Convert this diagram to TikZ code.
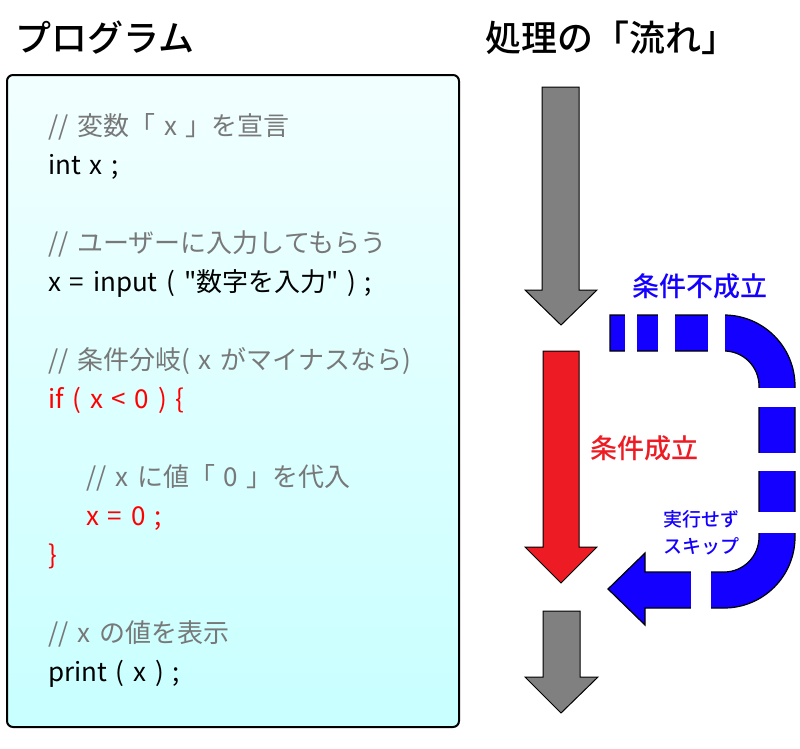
\documentclass[tikz,border=0pt]{standalone}
\usepackage{fontspec}
\setmainfont{Noto Sans CJK JP}[Ligatures=TeXOff]
\newfontfamily\codefont{Noto Sans CJK JP}[Ligatures=TeXOff, WordSpace=1.5]
\newfontfamily\titlefont{Noto Sans CJK JP Medium}
\usepackage{xcolor}
\usepackage{tikz}
\usetikzlibrary{positioning,calc}

\definecolor{boxtop}{RGB}{242,255,255}
\definecolor{boxbottom}{RGB}{200,255,255}
\definecolor{codegray}{RGB}{120,120,120}
\definecolor{codered}{RGB}{255,0,0}
\definecolor{flowgray}{RGB}{128,128,128}
\definecolor{flowred}{RGB}{237,28,36}
\definecolor{skipblue}{RGB}{20,0,255}

\begin{document}
\begin{tikzpicture}[x=1pt, y=1pt,
    title/.style={inner sep=0pt, font=\titlefont\fontsize{36}{40}\selectfont},
    codebox/.style={draw=black, line width=2pt, rounded corners=6pt, top color=boxtop, bottom color=boxbottom},
    codeline/.style={anchor=base west, inner sep=0pt, font=\codefont\fontsize{26}{31}\selectfont},
    comment/.style={codeline, text=codegray},
    redline/.style={codeline, text=codered},
    grayarrow/.style={draw=black, line width=1pt, fill=flowgray},
    redarrow/.style={draw=black, line width=1pt, fill=flowred},
    skipband/.style={draw=black, line width=1.2pt, fill=skipblue},
    gapcut/.style={fill=white},
    label/.style={inner sep=0pt, font=\titlefont\fontsize{27}{31}\selectfont},
    smalllabel/.style={inner sep=0pt, align=center, font=\titlefont\fontsize{19}{27}\selectfont}]

    \useasboundingbox (0,0) rectangle (800,-748);

    % titles
    \node[title] (prog) at (105,-38) {プログラム};
    \node[title] (flow) at (611,-38) {処理の「流れ」};

    % program listing
    \draw[codebox] (7,-75) rectangle (459,-727);
    \node[comment] (c1) at (48,-135) {// 変数「 x 」を宣言};
    \node[codeline] (l1) at (48,-174) {int x ;};
    \node[comment] (c2) at (48,-252) {// ユーザーに入力してもらう};
    \node[codeline] (l2) at (48,-291) {x = input ( "数字を入力" ) ;};
    \node[comment] (c3) at (48,-369) {// 条件分岐( x がマイナスなら)};
    \node[redline] (l3) at (48,-408) {if ( x < 0 ) \{};
    \node[comment] (c4) at (86,-486) {// x に値「 0 」を代入};
    \node[redline] (l4) at (86,-525) {x = 0 ;};
    \node[redline] (l5) at (48,-564) {\}};
    \node[comment] (c5) at (48,-642) {// x の値を表示};
    \node[codeline] (l6) at (48,-681) {print ( x ) ;};

    % flow arrows
    \draw[grayarrow] (542,-87) -- (579,-87) -- (579,-290) -- (597,-290) -- (561,-325)
        -- (525,-290) -- (542,-290) -- cycle;
    \draw[redarrow] (543,-351) -- (579,-351) -- (579,-547) -- (597,-547) -- (561,-583)
        -- (525,-547) -- (543,-547) -- cycle;
    \draw[grayarrow] (543,-611) -- (580,-611) -- (580,-677) -- (598,-677) -- (561,-713)
        -- (525,-677) -- (543,-677) -- cycle;

    % skipped branch
    \draw[skipband] (610,-315) -- (724,-315) arc[start angle=90, end angle=0, radius=71]
        -- (795,-537) arc[start angle=0, end angle=-90, radius=71]
        -- (645,-608) -- (645,-625) -- (608,-589) -- (645,-553) -- (645,-572) -- (724,-572)
        arc[start angle=-90, end angle=0, radius=35]
        -- (759,-386) arc[start angle=0, end angle=90, radius=35] -- (610,-351) -- cycle;
    \fill[gapcut] (625,-311) rectangle (637,-355);
    \fill[gapcut] (658,-311) rectangle (675,-355);
    \fill[gapcut] (708,-311) rectangle (725,-355);
    \fill[gapcut] (754,-388) rectangle (800,-407);
    \fill[gapcut] (754,-453) rectangle (800,-471);
    \fill[gapcut] (754,-512) rectangle (800,-533);
    \fill[gapcut] (691,-566) rectangle (711,-614);

    % labels
    \node[label, text=skipblue] (ng) at (700,-286) {条件不成立};
    \node[label, text=flowred] (ok) at (644,-448) {条件成立};
    \node[smalllabel, text=skipblue] (skip) at (701,-533) {実行せず\\スキップ};
\end{tikzpicture}
\end{document}
